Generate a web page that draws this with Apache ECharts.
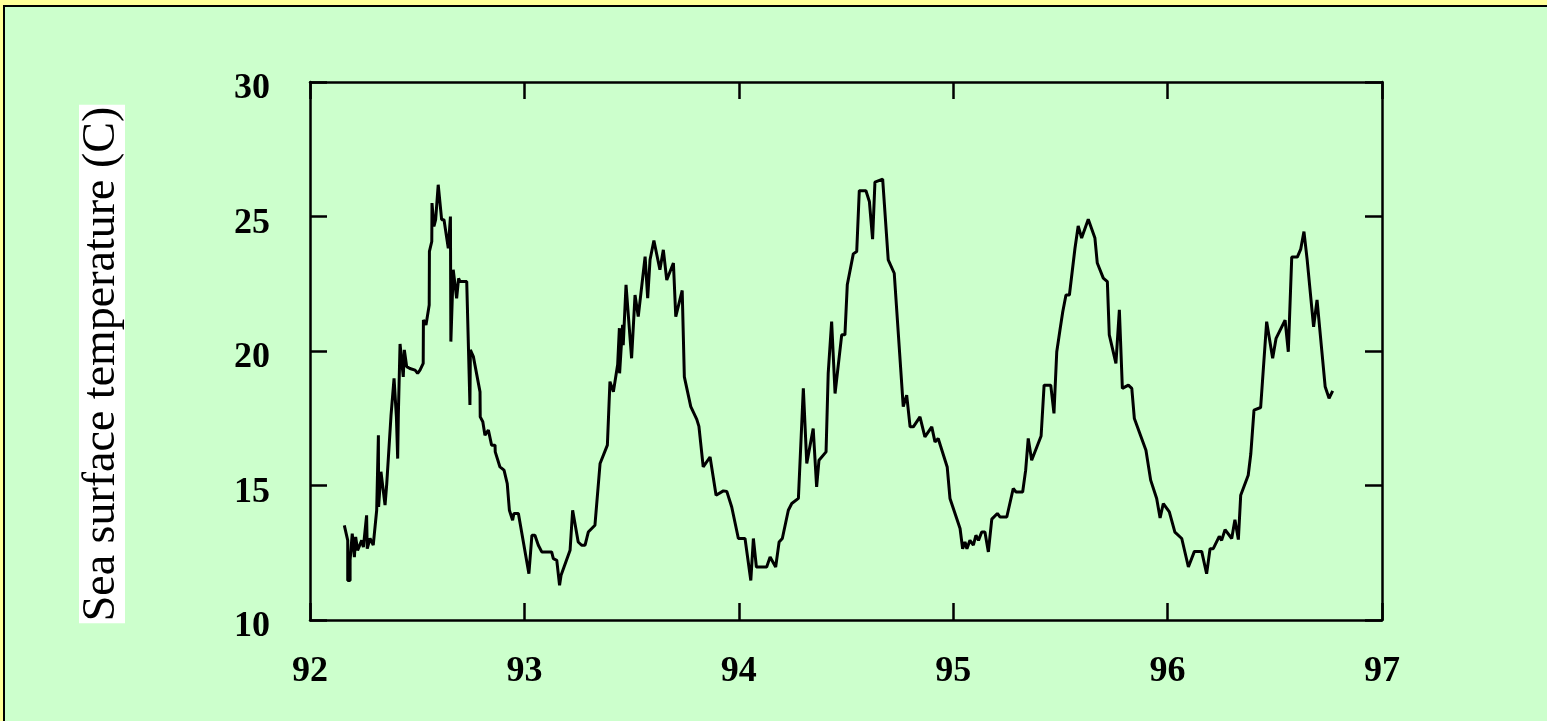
<!DOCTYPE html>
<html>
<head>
<meta charset="utf-8">
<script src="https://cdn.jsdelivr.net/npm/echarts@6/dist/echarts.min.js"></script>
<style>
html,body{margin:0;padding:0;background:#CCFFCC;}
#chart{width:1547px;height:721px;}
</style>
</head>
<body>
<div id="chart"></div>
<script>
// Decimal year (19xx) of each observation
const years = [
92.160,92.176,92.176,92.187,92.187,92.197,92.207,92.213,92.222,92.241,92.249,92.264,92.267,92.280,92.295,92.311,92.319,92.320,92.331,92.350,
92.358,92.378,92.392,92.403,92.409,92.412,92.420,92.435,92.440,92.451,92.466,92.490,92.502,92.513,92.528,92.529,92.541,92.556,92.557,92.568,
92.569,92.578,92.586,92.598,92.614,92.625,92.645,92.655,92.657,92.668,92.684,92.693,92.700,92.731,92.746,92.748,92.762,92.793,92.794,92.806,
92.816,92.832,92.847,92.863,92.864,92.886,92.905,92.920,92.930,92.945,92.951,92.972,93.021,93.035,93.049,93.065,93.081,93.127,93.135,93.151,
93.164,93.171,93.213,93.225,93.251,93.267,93.283,93.298,93.329,93.353,93.387,93.399,93.415,93.435,93.443,93.444,93.458,93.461,93.474,93.500,
93.516,93.531,93.563,93.575,93.586,93.604,93.632,93.648,93.664,93.695,93.706,93.736,93.746,93.776,93.804,93.814,93.834,93.866,93.894,93.928,
93.944,93.967,93.998,94.029,94.056,94.068,94.082,94.130,94.146,94.172,94.188,94.203,94.231,94.247,94.278,94.301,94.317,94.347,94.363,94.374,
94.407,94.417,94.433,94.449,94.480,94.495,94.506,94.534,94.550,94.562,94.593,94.609,94.624,94.635,94.671,94.697,94.725,94.767,94.783,94.799,
94.814,94.845,94.868,94.900,94.915,94.930,94.972,94.985,95.032,95.044,95.055,95.064,95.078,95.094,95.106,95.118,95.133,95.148,95.164,95.180,
95.206,95.218,95.250,95.280,95.293,95.324,95.338,95.350,95.366,95.410,95.424,95.455,95.470,95.483,95.498,95.511,95.526,95.542,95.568,95.583,
95.599,95.630,95.661,95.672,95.700,95.719,95.728,95.759,95.775,95.789,95.817,95.833,95.845,95.876,95.899,95.921,95.949,95.965,95.980,96.008,
96.034,96.066,96.097,96.125,96.159,96.182,96.198,96.213,96.241,96.252,96.268,96.299,96.314,96.330,96.341,96.376,96.388,96.403,96.434,96.462,
96.490,96.506,96.548,96.563,96.579,96.605,96.621,96.636,96.651,96.681,96.697,96.735,96.753,96.770
];
// Sea surface temperature (C)
const sst = [
13.52,12.96,11.47,11.47,12.22,13.21,12.34,13.09,12.59,12.96,12.71,13.89,12.65,13.03,12.78,14.08,16.87,14.20,15.51,14.27,
15.07,17.62,18.98,17.55,16.00,17.62,20.26,19.04,20.04,19.42,19.35,19.29,19.17,19.29,19.54,21.15,20.97,21.71,23.70,24.07,
25.50,24.63,24.88,26.18,24.88,24.88,23.82,25.00,20.35,23.02,21.96,22.70,22.58,22.58,17.99,20.04,19.79,18.48,17.55,17.37,
16.87,17.06,16.50,16.50,16.25,15.69,15.57,15.07,14.08,13.71,13.96,13.96,11.72,13.15,13.15,12.78,12.53,12.53,12.28,12.22,
11.29,11.66,12.59,14.08,12.90,12.78,12.78,13.27,13.52,15.82,16.50,18.86,18.48,19.50,20.85,19.17,20.97,20.22,22.46,19.73,
22.08,21.28,23.51,21.96,23.39,24.11,23.02,23.76,22.64,23.27,21.28,22.25,19.04,17.93,17.46,17.20,15.69,16.06,14.64,14.80,
14.78,14.20,13.03,13.03,11.47,13.03,11.97,11.97,12.34,11.97,12.90,13.03,14.08,14.33,14.52,18.61,15.82,17.12,14.95,15.94,
16.25,19.17,21.09,18.42,20.60,20.60,22.46,23.61,23.70,25.96,25.96,25.56,24.16,26.28,26.39,23.39,22.89,17.93,18.36,17.18,
17.18,17.55,16.81,17.18,16.62,16.75,15.69,14.52,13.40,12.65,12.90,12.65,12.96,12.78,13.15,12.96,13.27,13.27,12.53,13.75,
13.96,13.83,13.83,14.89,14.76,14.76,15.57,16.75,15.94,16.84,18.73,18.73,17.68,19.97,20.78,21.46,22.08,22.08,23.82,24.65,
24.20,24.90,24.20,23.27,22.71,22.58,20.60,19.54,21.53,18.61,18.73,18.61,17.49,16.81,16.31,15.20,14.52,13.79,14.33,14.02,
13.27,13.03,11.97,12.55,12.55,11.72,12.65,12.65,13.11,12.96,13.36,13.03,13.73,12.99,14.64,15.38,16.17,17.80,17.90,21.09,
19.73,20.47,21.15,19.97,23.49,23.49,23.79,24.44,23.39,20.90,21.90,18.67,18.24,18.52
];
const xTicks = [92, 93, 94, 95, 96, 97];
const yTicks = [10, 15, 20, 25, 30];
const yName = 'Sea surface temperature (C)';

const points = years.map((y, i) => [y, sst[i]]);
const labelFont = {fontFamily: 'Liberation Serif', fontWeight: 'bold', fontSize: 36, color: '#000'};
const axisLineStyle = {lineStyle: {color: '#000', width: 2.5}};
const tickStyle = {show: true, inside: true, length: 17, lineStyle: {color: '#000', width: 2.5}};

const chart = echarts.init(document.getElementById('chart'), null, {renderer: 'canvas'});
chart.setOption({
  backgroundColor: '#CCFFCC',
  animation: false,
  grid: {left: 310, right: 165, top: 82, bottom: 101, show: false},
  xAxis: [
    {type: 'value', min: xTicks[0], max: xTicks[xTicks.length - 1], interval: 1, position: 'bottom',
     axisLine: axisLineStyle, axisTick: tickStyle, splitLine: {show: false},
     axisLabel: Object.assign({margin: 34}, labelFont)},
    {type: 'value', min: xTicks[0], max: xTicks[xTicks.length - 1], interval: 1, position: 'top',
     axisLine: axisLineStyle, axisTick: tickStyle, splitLine: {show: false}, axisLabel: {show: false}}
  ],
  yAxis: [
    {type: 'value', min: yTicks[0], max: yTicks[yTicks.length - 1], interval: 5, position: 'left',
     axisLine: axisLineStyle, axisTick: tickStyle, splitLine: {show: false},
     axisLabel: {margin: 40, formatter: '{a|{value}}',
       rich: {a: Object.assign({padding: [14, 0, 0, 0]}, labelFont)}}},
    {type: 'value', min: yTicks[0], max: yTicks[yTicks.length - 1], interval: 5, position: 'right',
     axisLine: axisLineStyle, axisTick: tickStyle, splitLine: {show: false}, axisLabel: {show: false}}
  ],
  series: [{
    type: 'line', data: points, showSymbol: false, symbol: 'none',
    lineStyle: {color: '#000', width: 3}, xAxisIndex: 0, yAxisIndex: 0
  }],
  graphic: [
    {type: 'rect', shape: {x: 0, y: 0, width: 1547, height: 5}, style: {fill: '#FFFF99'}, silent: true},
    {type: 'rect', shape: {x: 0, y: 0, width: 3, height: 721}, style: {fill: '#FFFF99'}, silent: true},
    {type: 'rect', shape: {x: 3, y: 5, width: 1544, height: 2}, style: {fill: '#000'}, silent: true},
    {type: 'rect', shape: {x: 3, y: 5, width: 2, height: 716}, style: {fill: '#000'}, silent: true},
    {type: 'text', x: 102, y: 364, rotation: Math.PI / 2, silent: true,
     style: {text: yName, fontFamily: 'Liberation Serif', fontSize: 46, fill: '#000',
             align: 'center', verticalAlign: 'middle', backgroundColor: '#fff', padding: [0, 2, 0, 2]}}
  ]
});
</script>
</body>
</html>
